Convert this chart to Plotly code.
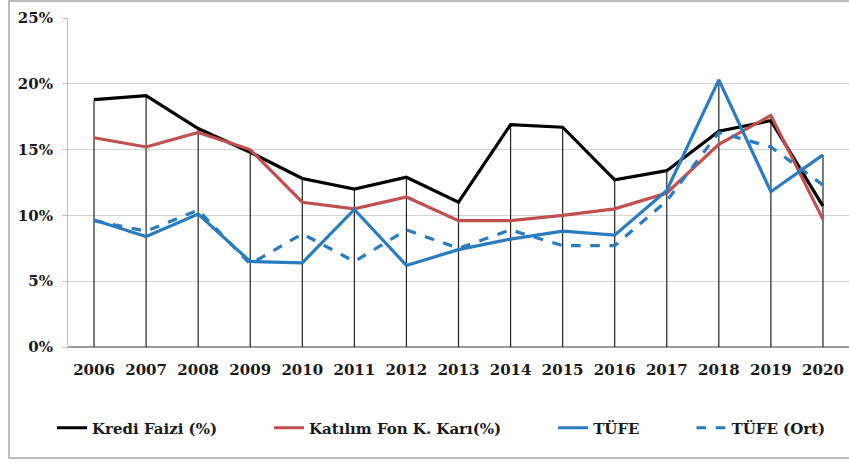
import plotly.graph_objects as go

years = [str(y) for y in range(2006, 2021)]
kredi_faizi = [18.8, 19.1, 16.6, 14.8, 12.8, 12.0, 12.9, 11.0, 16.9, 16.7, 12.7, 13.4, 16.4, 17.2, 10.7]
katilim = [15.9, 15.2, 16.3, 15.0, 11.0, 10.5, 11.4, 9.6, 9.6, 10.0, 10.5, 11.7, 15.4, 17.6, 9.7]
tufe = [9.65, 8.4, 10.1, 6.5, 6.4, 10.45, 6.2, 7.4, 8.2, 8.8, 8.5, 11.9, 20.3, 11.8, 14.6]
tufe_ort = [9.6, 8.8, 10.4, 6.3, 8.6, 6.5, 8.9, 7.5, 8.9, 7.7, 7.7, 11.1, 16.3, 15.2, 12.3]
y_ticks = [0, 5, 10, 15, 20, 25]
y_tick_labels = ["0%", "5%", "10%", "15%", "20%", "25%"]
series_names = ["Kredi Faizi (%)", "Katılım Fon K. Karı(%)", "TÜFE", "TÜFE (Ort)"]

# drop lines from axis up to the highest series value at each year
drop_x, drop_y = [], []
for i, yr in enumerate(years):
    top = max(kredi_faizi[i], katilim[i], tufe[i], tufe_ort[i])
    drop_x += [yr, yr, None]
    drop_y += [0, top, None]

W, H = 849, 465
L, R, T, B = 68, 0, 18, 118
pw, ph = W - L - R, H - T - B

def px(xp):
    return (xp - L) / pw

def py(yp):
    return (H - B - yp) / ph

pad = "\u00a0"
legend_pad = [9, 9, 9, 0]

fig = go.Figure()
fig.add_trace(go.Scatter(x=drop_x, y=drop_y, mode="lines", line=dict(color="#222222", width=1.2),
                         showlegend=False, hoverinfo="skip"))
styles = [dict(color="#000000", width=3.2),
          dict(color="#C0504D", width=3.2),
          dict(color="#2A7CC0", width=3.2),
          dict(color="#2A7CC0", width=3.2, dash="dash")]
for vals, name, st, n in zip([kredi_faizi, katilim, tufe, tufe_ort], series_names, styles, legend_pad):
    fig.add_trace(go.Scatter(x=years, y=vals, mode="lines", name=name + pad * n, line=st))

tick_font = dict(family="DejaVu Serif", size=15, color="#1a1a1a", weight="bold")

fig.update_layout(
    width=W, height=H,
    margin=dict(l=L, r=R, t=T, b=B),
    paper_bgcolor="white", plot_bgcolor="white",
    xaxis=dict(type="category", range=[-0.5, 14.5], showgrid=False, showline=False,
               ticks="", tickfont=tick_font, zeroline=False, ticklabelstandoff=12),
    yaxis=dict(range=[0, 25], tickvals=y_ticks, ticktext=y_tick_labels, showgrid=True,
               gridcolor="#d4d4d4", gridwidth=1.2, showline=True, linecolor="#bfbfbf",
               ticks="outside", ticklen=5, tickcolor="#bfbfbf", tickfont=tick_font,
               ticklabelstandoff=6,
               zeroline=True, zerolinecolor="#9a9a9a", zerolinewidth=1.5),
    legend=dict(orientation="h", x=px(52), y=py(428), xanchor="left", yanchor="middle",
                font=dict(family="DejaVu Serif", size=15, color="#1a1a1a", weight="bold"),
                itemwidth=30, tracegroupgap=0, bgcolor="rgba(0,0,0,0)"),
    shapes=[dict(type="rect", xref="paper", yref="paper", x0=px(9), x1=px(860), y0=py(458), y1=py(1),
                 line=dict(color="#a8a8a8", width=1.5), fillcolor="rgba(0,0,0,0)", layer="below")],
)

fig.write_html("out.html")
